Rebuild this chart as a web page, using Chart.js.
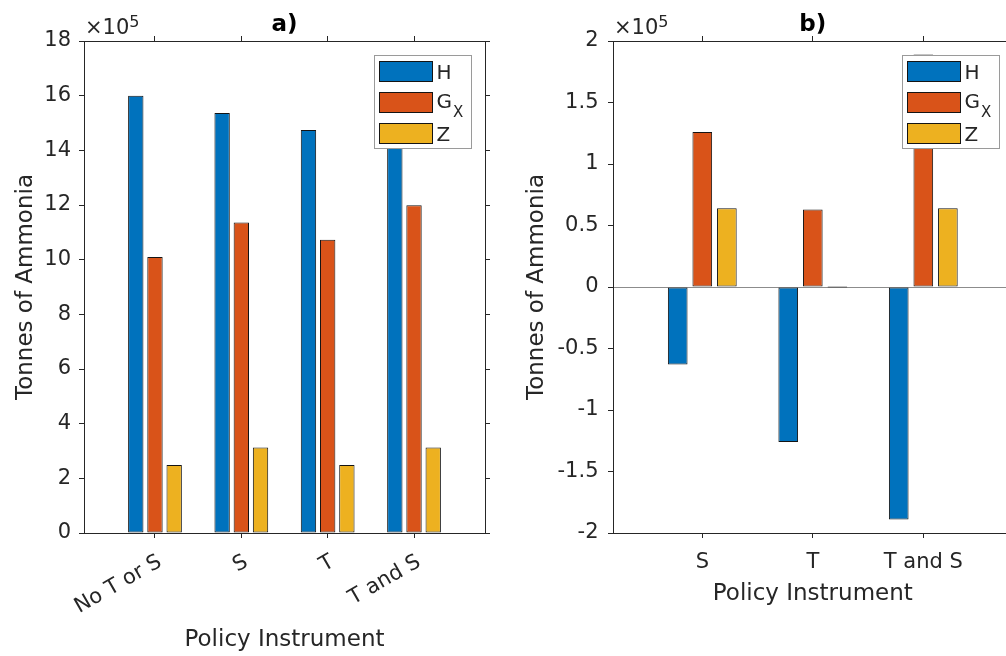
<!DOCTYPE html>
<html><head><meta charset="utf-8">
<script src="https://cdn.jsdelivr.net/npm/chart.js@4/dist/chart.umd.min.js"></script>
<style>
html,body{margin:0;padding:0;background:#fff;overflow:hidden;width:1006px;height:656px;}
#wa{position:absolute;left:0;top:0;width:500px;height:656px;}
#wb{position:absolute;left:500px;top:0;width:530px;height:656px;}
</style></head><body>
<div id="wa"><canvas id="ca"></canvas></div>
<div id="wb"><canvas id="cb"></canvas></div>
<script>
// ---------------- data ----------------
const categoriesA = ['No T or S', 'S', 'T', 'T and S'];
const categoriesB = ['S', 'T', 'T and S'];
const seriesNames = ['H', 'G_X', 'Z'];
// panel a) tonnes of ammonia
const hA = [1600000, 1537000, 1474000, 1411000];
const gA = [1010000, 1136000, 1073000, 1199000];
const zA = [249000, 313000, 249000, 313000];
// panel b) change relative to "No T or S"
const hB = [-63000, -126000, -189000];
const gB = [126000, 63000, 189000];
const zB = [64000, 0, 64000];
// tick labels (x 10^5)
const yTicksA = [0, 2, 4, 6, 8, 10, 12, 14, 16, 18];
const yTicksB = [-2, -1.5, -1, -0.5, 0, 0.5, 1, 1.5, 2];
const exponentLabel = ['\u00d710', '5'];
const titleA = 'a)';
const titleB = 'b)';
const xTitle = 'Policy Instrument';
const yTitle = 'Tonnes of Ammonia';

// ---------------- style ----------------
const FONT = 'DejaVu Sans';
const INK = '#262626';
const COLORS = ['#0072BD', '#D95319', '#EDB120'];
const EDGE = '#141414';
Chart.defaults.font.family = FONT;
Chart.defaults.color = INK;

const boxLegend = {
  id: 'boxLegend',
  afterDatasetsDraw(chart) {
    const ctx = chart.ctx, ca = chart.chartArea;
    const w = 97, h = 93;
    const bx = Math.round(ca.right - 14 - w) + 0.5;
    const by = Math.round(ca.top + 14) + 0.5;
    ctx.save();
    ctx.fillStyle = '#fff';
    ctx.fillRect(bx, by, w, h);
    ctx.strokeStyle = '#9a9a9a';
    ctx.lineWidth = 1;
    ctx.strokeRect(bx, by, w, h);
    const rowTop = [6, 37, 68];
    const base = [23, 52, 85];
    chart.data.datasets.forEach((ds, i) => {
      ctx.fillStyle = ds.backgroundColor;
      ctx.fillRect(bx + 5, by + rowTop[i], 53, 20);
      ctx.strokeStyle = EDGE;
      ctx.strokeRect(bx + 5, by + rowTop[i], 53, 20);
      const [main, sub] = seriesNames[i].split('_');
      ctx.fillStyle = INK;
      ctx.textBaseline = 'alphabetic';
      ctx.textAlign = 'left';
      ctx.font = '20px "' + FONT + '"';
      ctx.fillText(main, bx + 62, by + base[i]);
      if (sub) {
        const mw = ctx.measureText(main).width;
        ctx.font = '15px "' + FONT + '"';
        ctx.fillText(sub, bx + 62 + mw + 1, by + base[i] + 9);
      }
    });
    ctx.restore();
  }
};

const exponent = {
  id: 'exponent',
  afterDraw(chart) {
    const ctx = chart.ctx, ca = chart.chartArea;
    ctx.save();
    ctx.fillStyle = INK;
    ctx.textAlign = 'left';
    ctx.textBaseline = 'alphabetic';
    ctx.font = '21px "' + FONT + '"';
    const x0 = ca.left + 1;
    ctx.fillText(exponentLabel[0], x0, ca.top - 7);
    const w0 = ctx.measureText(exponentLabel[0]).width;
    ctx.font = '16px "' + FONT + '"';
    ctx.fillText(exponentLabel[1], x0 + w0, ca.top - 14);
    ctx.restore();
  }
};

function makeChart(canvasId, o) {
  const positions = o.categories.map((_, i) => i + 1);
  const tickFromPositions = s => { s.ticks = positions.map(v => ({ value: v })); };
  const yTickBuild = s => { s.ticks = o.yTicks.map(v => ({ value: v * 1e5 })); };
  const datasets = o.series.map((arr, i) => ({
    label: seriesNames[i],
    data: arr,
    backgroundColor: COLORS[i],
    borderColor: EDGE,
    borderWidth: 1,
    borderSkipped: false,
    minBarLength: 1,
    categoryPercentage: 0.667,
    barPercentage: 0.8
  }));
  return new Chart(document.getElementById(canvasId), {
    type: 'bar',
    data: { labels: positions, datasets },
    plugins: [boxLegend, exponent],
    options: {
      responsive: true,
      maintainAspectRatio: false,
      animation: false,
      devicePixelRatio: 1,
      layout: { padding: { left: 0, right: o.padRight, top: 0, bottom: 0 } },
      plugins: {
        legend: { display: false },
        tooltip: { enabled: false },
        title: {
          display: true, text: o.title, color: '#000', fullSize: false,
          font: { size: 23, weight: 'bold', family: FONT },
          padding: { top: 11.2, bottom: 0 }
        }
      },
      scales: {
        x: {
          type: 'linear', position: 'bottom', offset: false,
          min: o.xMin, max: o.xMax,
          afterBuildTicks: tickFromPositions,
          afterFit: s => { s.height = 123; },
          ticks: {
            callback: (v, i) => o.categories[i],
            autoSkip: false,
            font: { size: 21 }, color: INK,
            padding: o.xTickPad, labelOffset: o.labelOffset,
            minRotation: o.rot, maxRotation: o.rot
          },
          grid: { offset: false, drawOnChartArea: false, drawTicks: true, tickLength: 5, color: INK, lineWidth: 1 },
          border: { color: INK, width: 1 },
          title: { display: true, text: xTitle, color: INK, font: { size: 23 }, padding: { top: 0, bottom: o.xTitlePad } }
        },
        x2: {
          type: 'linear', position: 'top', offset: false,
          min: o.xMin, max: o.xMax,
          afterBuildTicks: tickFromPositions,
          afterFit: s => { s.height = 2.2; },
          ticks: { display: false },
          grid: { offset: false, drawOnChartArea: false, drawTicks: true, tickLength: 5, color: INK, lineWidth: 1 },
          border: { color: INK, width: 1 }
        },
        y: {
          type: 'linear', position: 'left',
          min: o.yMin, max: o.yMax,
          afterBuildTicks: yTickBuild,
          afterFit: s => { s.width = o.yWidth; },
          ticks: {
            callback: (v, i) => String(o.yTicks[i]),
            font: { size: 21 }, color: INK, padding: o.yTickPad
          },
          grid: {
            drawOnChartArea: o.zeroLine, drawTicks: true, tickLength: 5,
            color: c => (o.zeroLine && c.tick && c.tick.value === 0) ? '#8c8c8c' : 'rgba(0,0,0,0)',
            tickColor: INK, lineWidth: 1
          },
          border: { color: INK, width: 1 },
          title: { display: true, text: yTitle, color: INK, font: { size: 23 }, padding: { top: o.yTitlePad, bottom: 0 } }
        },
        y2: {
          type: 'linear', position: 'right',
          min: o.yMin, max: o.yMax,
          afterBuildTicks: yTickBuild,
          afterFit: s => { s.width = 6; },
          ticks: { display: false },
          grid: { drawOnChartArea: false, drawTicks: true, tickLength: 5, color: INK, lineWidth: 1 },
          border: { color: INK, width: 1 }
        }
      }
    }
  });
}

makeChart('ca', {
  categories: categoriesA, series: [hA, gA, zA], yTicks: yTicksA, title: titleA,
  xMin: 0.178, xMax: 4.822, yMin: 0, yMax: 1800000,
  padRight: 9, yWidth: 84, yTickPad: 8, yTitlePad: 12,
  xTickPad: 11.6, labelOffset: 5, rot: 30, xTitlePad: 2, zeroLine: false
});
makeChart('cb', {
  categories: categoriesB, series: [hB, gB, zB], yTicks: yTicksB, title: titleB,
  xMin: 0.192, xMax: 3.808, yMin: -200000, yMax: 200000,
  padRight: 11.4, yWidth: 113, yTickPad: 9.5, yTitlePad: 23,
  xTickPad: 12, labelOffset: 0, rot: 0, xTitlePad: 48, zeroLine: true
});
</script>
</body></html>
